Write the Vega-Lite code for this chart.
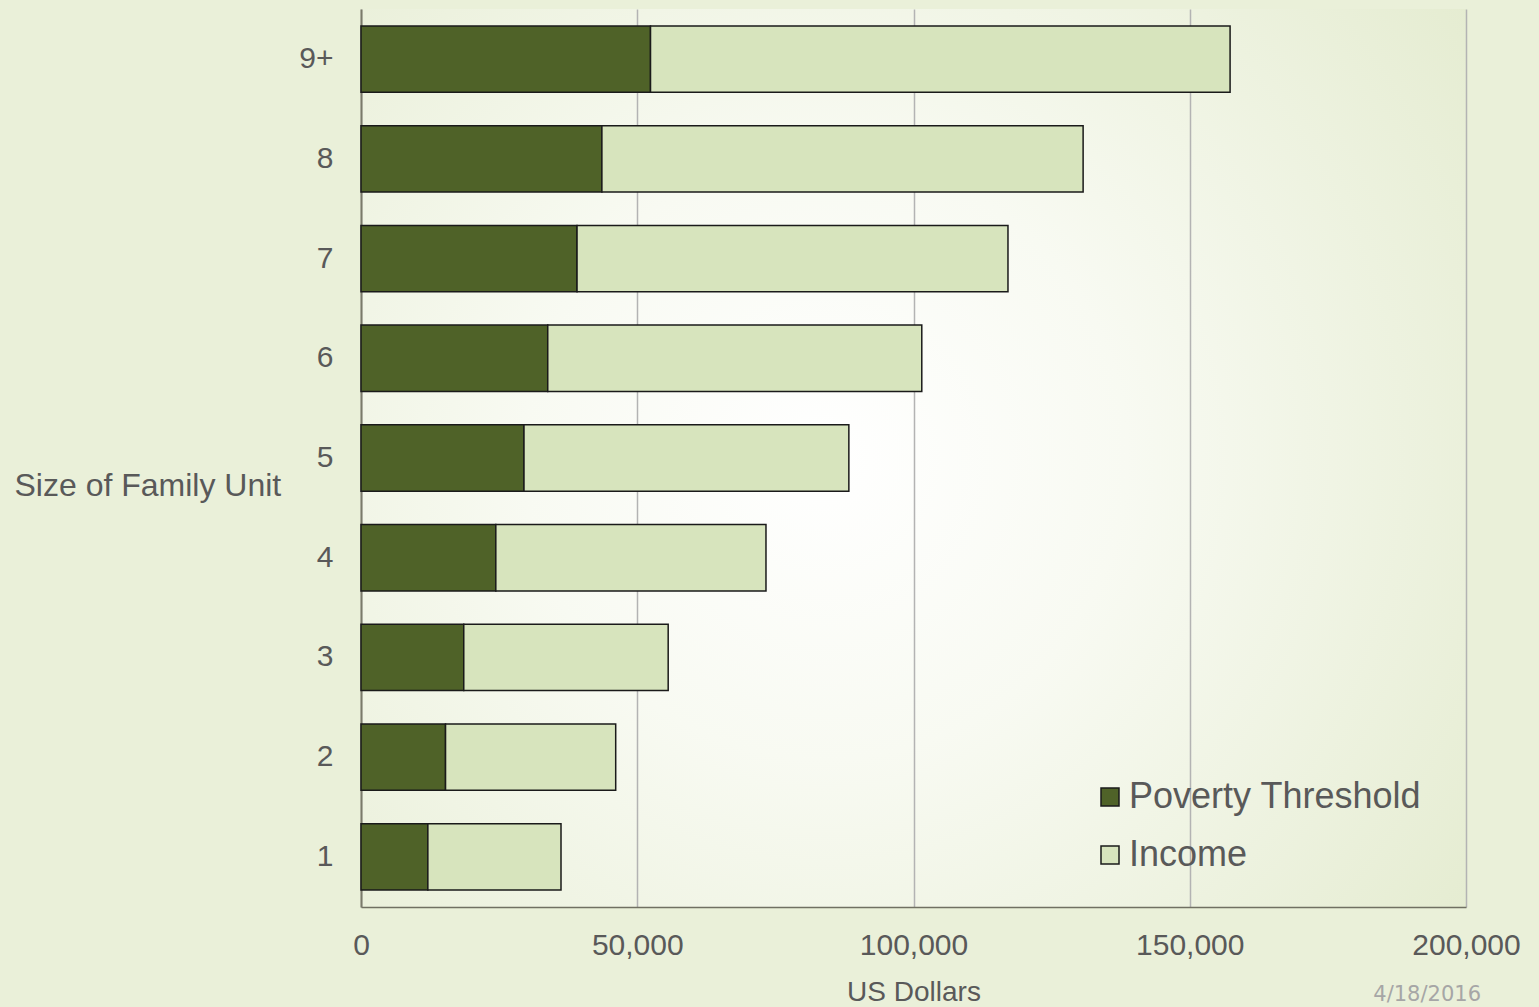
{
  "$schema": "https://vega.github.io/schema/vega-lite/v6.json",
  "width": 1105,
  "height": 898,
  "autosize": "none",
  "padding": {"left": 361, "top": 9, "right": 73, "bottom": 100},
  "background": "#eaf0d9",
  "title": {
    "text": "4/18/2016",
    "orient": "bottom",
    "anchor": "end",
    "frame": "group",
    "font": "DejaVu Sans",
    "fontSize": 21,
    "fontWeight": "normal",
    "color": "#a6a6a6",
    "offset": 0,
    "dx": 15,
    "dy": -22
  },
  "config": {
    "view": {
      "stroke": null,
      "fill": {
        "gradient": "radial",
        "x1": 0.42, "y1": 0.5, "r1": 0,
        "x2": 0.42, "y2": 0.5, "r2": 0.78,
        "stops": [
          {"offset": 0, "color": "#ffffff"},
          {"offset": 0.35, "color": "#f8faf2"},
          {"offset": 1, "color": "#e2eacc"}
        ]
      }
    },
    "font": "Liberation Sans",
    "axis": {
      "labelFont": "Liberation Sans",
      "titleFont": "Liberation Sans",
      "labelColor": "#595959",
      "titleColor": "#595959",
      "titleFontWeight": "normal"
    },
    "legend": {
      "labelFont": "Liberation Sans"
    }
  },
  "data": {
    "values": [
      {"size": "1", "category": "Poverty Threshold", "k": 0, "value": 12100},
      {"size": "1", "category": "Income", "k": 1, "value": 24100},
      {"size": "2", "category": "Poverty Threshold", "k": 0, "value": 15300},
      {"size": "2", "category": "Income", "k": 1, "value": 30800},
      {"size": "3", "category": "Poverty Threshold", "k": 0, "value": 18600},
      {"size": "3", "category": "Income", "k": 1, "value": 37000},
      {"size": "4", "category": "Poverty Threshold", "k": 0, "value": 24400},
      {"size": "4", "category": "Income", "k": 1, "value": 48900},
      {"size": "5", "category": "Poverty Threshold", "k": 0, "value": 29500},
      {"size": "5", "category": "Income", "k": 1, "value": 58800},
      {"size": "6", "category": "Poverty Threshold", "k": 0, "value": 33800},
      {"size": "6", "category": "Income", "k": 1, "value": 67700},
      {"size": "7", "category": "Poverty Threshold", "k": 0, "value": 39100},
      {"size": "7", "category": "Income", "k": 1, "value": 78000},
      {"size": "8", "category": "Poverty Threshold", "k": 0, "value": 43600},
      {"size": "8", "category": "Income", "k": 1, "value": 87100},
      {"size": "9+", "category": "Poverty Threshold", "k": 0, "value": 52400},
      {"size": "9+", "category": "Income", "k": 1, "value": 104900}
    ]
  },
  "mark": {"type": "bar", "stroke": "#1a1a1a", "strokeWidth": 1.5},
  "encoding": {
    "y": {
      "field": "size",
      "type": "nominal",
      "scale": {
        "domain": ["9+", "8", "7", "6", "5", "4", "3", "2", "1"],
        "paddingInner": 0.335,
        "paddingOuter": 0.17
      },
      "axis": {
        "title": "Size of Family Unit",
        "titleAngle": 0,
        "titleFontSize": 32,
        "titleAlign": "left",
        "titleBaseline": "middle",
        "titleX": -347,
        "titleY": 476,
        "labelFontSize": 30,
        "labelPadding": 28,
        "ticks": false,
        "domainColor": "#7a7a6a",
        "domainWidth": 2
      }
    },
    "x": {
      "field": "value",
      "type": "quantitative",
      "stack": "zero",
      "scale": {"domain": [0, 200000], "nice": false},
      "axis": {
        "title": "US Dollars",
        "titleFontSize": 28,
        "titleBaseline": "middle",
        "titleY": 85,
        "values": [0, 50000, 100000, 150000, 200000],
        "format": ",d",
        "labelFontSize": 30,
        "labelPadding": 23,
        "labelFlush": false,
        "ticks": false,
        "grid": true,
        "gridColor": "#b3b3b3",
        "gridWidth": 1.5,
        "domainColor": "#707062",
        "domainWidth": 1.5
      }
    },
    "order": {"field": "k", "type": "quantitative"},
    "color": {
      "field": "category",
      "type": "nominal",
      "scale": {
        "domain": ["Poverty Threshold", "Income"],
        "range": ["#4f6228", "#d7e4bd"]
      },
      "legend": {
        "title": null,
        "orient": "none",
        "legendX": 731,
        "legendY": 770,
        "symbolType": "square",
        "symbolSize": 324,
        "symbolStrokeColor": "#1a1a1a",
        "symbolStrokeWidth": 1.5,
        "labelFontSize": 36,
        "labelLimit": 0,
        "labelColor": "#595959",
        "labelOffset": 1,
        "rowPadding": 22
      }
    }
  }
}
